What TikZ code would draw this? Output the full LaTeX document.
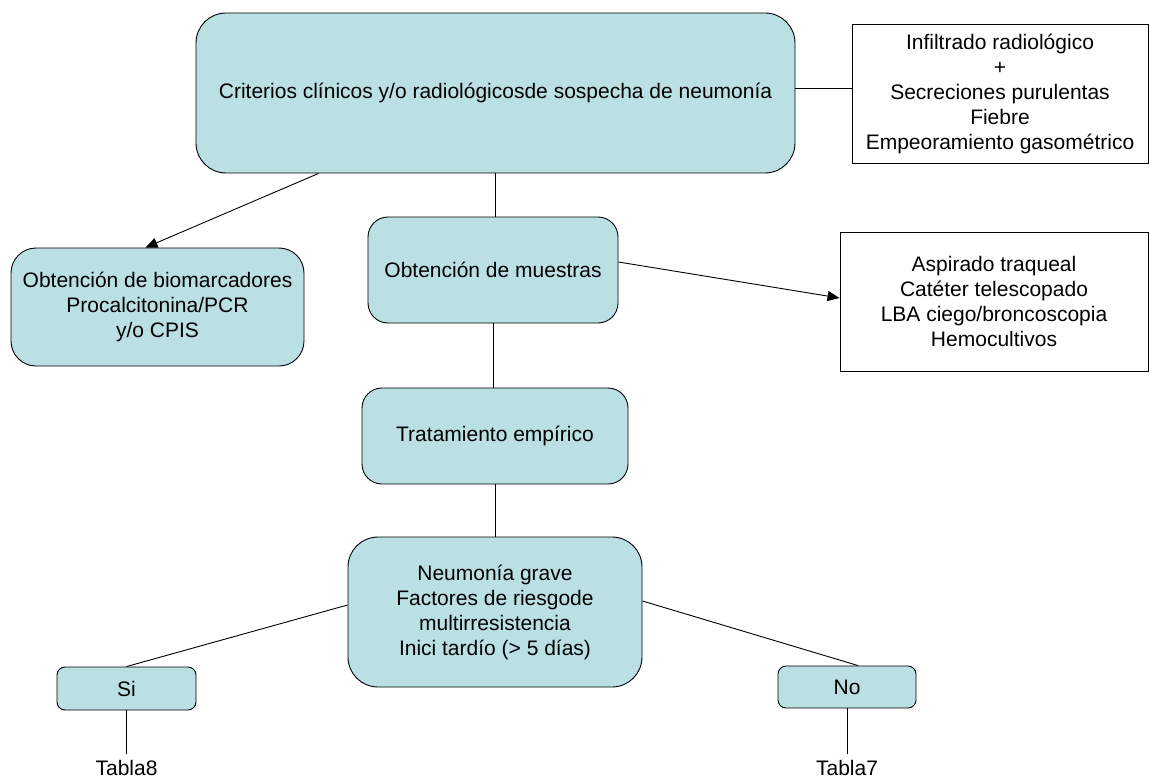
\documentclass[tikz,border=0pt]{standalone}
\usepackage{fontspec}
\setmainfont{Liberation Sans}
\usetikzlibrary{arrows.meta}
\definecolor{celeste}{RGB}{187,224,227}
\begin{document}
\begin{tikzpicture}[x=1pt,y=-1pt,
    caja/.style={draw,line width=0.9pt,fill=celeste,align=center,inner sep=0pt},
    nota/.style={draw,line width=0.9pt,fill=white,align=center,inner sep=0pt},
    etiqueta/.style={inner sep=6pt},
    flecha/.style={-{Triangle[length=12pt,width=10pt]},line width=0.9pt},
    font=\fontsize{21}{25}\selectfont]
      \useasboundingbox (0,0) rectangle (1150,778);
      \node[caja,rounded corners=30pt,minimum width=599pt,minimum height=160pt] (criterios) at (495.5,93)
        {Criterios clínicos y/o radiológicosde sospecha de neumonía};
      \node[nota,minimum width=296pt,minimum height=139pt] (infiltrado) at (1000,93.5)
        {Infiltrado radiológico\\+\\Secreciones purulentas\\Fiebre\\Empeoramiento gasométrico};
      \node[caja,rounded corners=25pt,minimum width=293pt,minimum height=118pt] (bio) at (157.5,307)
        {Obtención de biomarcadores\\Procalcitonina/PCR\\y/o CPIS};
      \node[caja,rounded corners=20pt,minimum width=250pt,minimum height=106pt] (muestras) at (493,270)
        {Obtención de muestras};
      \node[nota,minimum width=308pt,minimum height=139pt] (aspirado) at (994,301.5)
        {Aspirado traqueal\\Catéter telescopado\\LBA ciego/broncoscopia\\Hemocultivos};
      \node[caja,rounded corners=20pt,minimum width=266pt,minimum height=96pt] (tratamiento) at (495,436)
        {Tratamiento empírico};
      \node[caja,rounded corners=30pt,minimum width=294pt,minimum height=150pt] (grave) at (495,612)
        {Neumonía grave\\Factores de riesgode\\multirresistencia\\Inici tardío (> 5 días)};
      \node[caja,rounded corners=8pt,minimum width=139pt,minimum height=43pt] (si) at (126.5,688.5) {Si};
      \node[caja,rounded corners=8pt,minimum width=138pt,minimum height=42pt] (no) at (847,687) {No};
      \node[etiqueta] (tabla8) at (126.5,768) {Tabla8};
      \node[etiqueta] (tabla7) at (847,768) {Tabla7};
      \draw[line width=0.9pt] ([yshift=5pt]criterios.east) -- ([yshift=5pt]criterios.east -| infiltrado.west);
      \draw[flecha] ([xshift=-177pt]criterios.south) -- ([xshift=-12pt]bio.north);
      \draw[line width=0.9pt] (criterios.south) -- (criterios.south |- muestras.north);
      \draw[flecha] ([yshift=8pt]muestras.east) -- ([yshift=3.5pt]aspirado.west);
      \draw[line width=0.9pt] (muestras.south) -- (muestras.south |- tratamiento.north);
      \draw[line width=0.9pt] (tratamiento.south) -- (grave.north);
      \draw[line width=0.9pt] ([yshift=7pt]grave.west) -- (si.north);
      \draw[line width=0.9pt] ([yshift=11pt]grave.east) -- ([xshift=11pt]no.north);
      \draw[line width=0.9pt] (si.south) -- (tabla8.north);
      \draw[line width=0.9pt] (no.south) -- (tabla7.north);
    \end{tikzpicture}
\end{document}
